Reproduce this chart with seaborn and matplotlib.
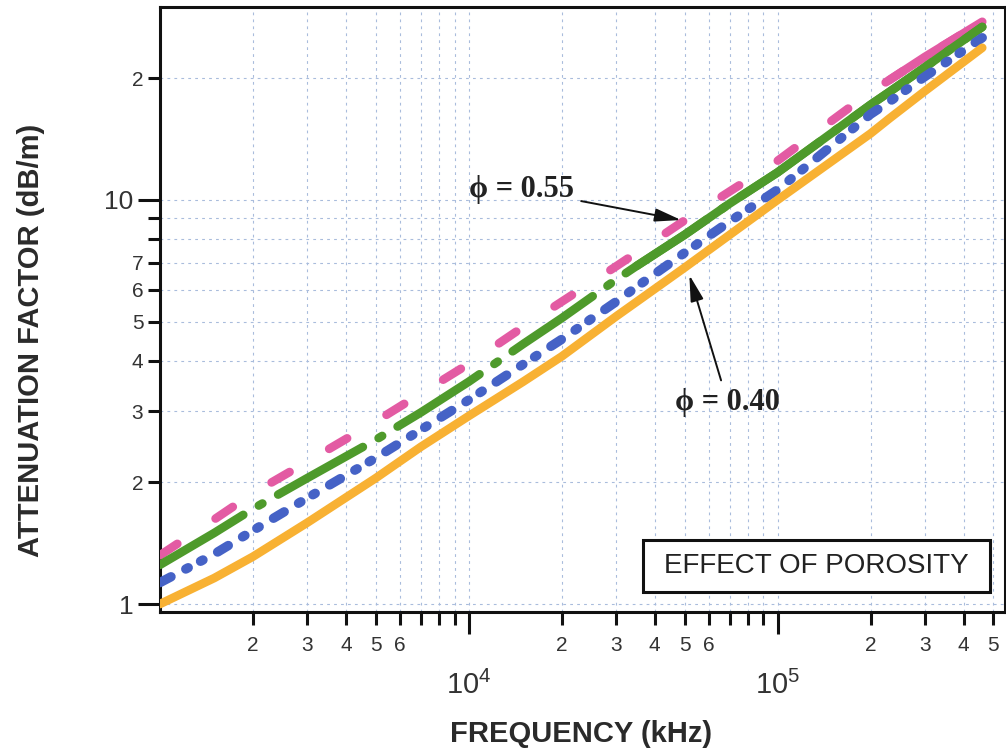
import numpy as np
import pandas as pd
import matplotlib
matplotlib.use("Agg")
import matplotlib.pyplot as plt
from matplotlib.ticker import FixedLocator, FixedFormatter
from matplotlib.patches import Rectangle
import seaborn as sns

# ---------------- data ----------------
freq_khz = [1000, 1500, 2000, 3000, 5000, 7000, 10000, 15000, 20000, 30000,
            35000, 50000, 70000, 100000, 200000, 230000, 300000, 460000]
atten_pink = [1.32, 1.62, 1.88, 2.25, 2.83, 3.32, 3.93, 4.85, 5.6, 6.85,
              7.41, 8.9, 10.5, 12.5, 18.5, 19.8, 22.6, 27.6]
atten_green = [1.25, 1.5, 1.72, 2.05, 2.55, 2.98, 3.55, 4.4, 5.1, 6.35,
               6.87, 8.2, 9.8, 11.7, 17.2, 18.5, 21.3, 26.8]
atten_blue = [1.13, 1.33, 1.52, 1.83, 2.3, 2.7, 3.2, 3.92, 4.52, 5.6,
              6.1, 7.4, 8.85, 10.6, 16.3, 17.5, 20.2, 25.2]
atten_orange = [1.00, 1.16, 1.31, 1.59, 2.05, 2.45, 2.92, 3.55, 4.1, 5.15,
                5.6, 6.8, 8.2, 10.0, 14.6, 15.9, 18.6, 23.8]
series_names = ["phi_0.55", "phi_b", "phi_c", "phi_0.40"]

x_major = [1e4, 1e5]
x_major_labels = [r"$\mathregular{10^4}$", r"$\mathregular{10^5}$"]
x_minor = [2e3, 3e3, 4e3, 5e3, 6e3, 7e3, 8e3, 9e3,
           2e4, 3e4, 4e4, 5e4, 6e4, 7e4, 8e4, 9e4,
           2e5, 3e5, 4e5, 5e5]
x_minor_labels = ["2", "3", "4", "5", "6", "", "", "",
                  "2", "3", "4", "5", "6", "", "", "",
                  "2", "3", "4", "5"]
y_major = [1, 10]
y_major_labels = ["1", "10"]
y_minor = [2, 3, 4, 5, 6, 7, 8, 9, 20]
y_minor_labels = ["2", "3", "4", "5", "6", "7", "", "", "2"]

# ---------------- style ----------------
sns.set_style("white")
plt.rcParams["font.family"] = ["Liberation Sans", "DejaVu Sans"]
plt.rcParams["lines.scale_dashes"] = False
plt.rcParams["mathtext.fontset"] = "custom"
plt.rcParams["mathtext.rm"] = "Liberation Sans"

df = pd.DataFrame({
    "freq": freq_khz * 4,
    "atten": atten_pink + atten_green + atten_blue + atten_orange,
    "series": np.repeat(series_names, len(freq_khz)),
})

styles = {
    "phi_0.55": dict(color="#E35BA3", ls=(0, (15, 33)), solid_from=230000, lw=6.2),
    "phi_b": dict(color="#4E9A2B", ls=(0, (70, 13, 3, 13)), solid_from=35000, lw=6.2),
    "phi_c": dict(color="#4562C6", ls=(0, (9, 12, 2, 10, 2, 12)), solid_from=None, lw=6.8),
    "phi_0.40": dict(color="#F8B133", ls="-", solid_from=None, lw=6.2),
}

fig = plt.figure(figsize=(10.06, 7.52), dpi=100)
ax = fig.add_axes([0.159, 0.186, 0.840, 0.8045])
ax.set_xscale("log")
ax.set_yscale("log")

for name in series_names:
    st = styles[name]
    sub = df[df["series"] == name]
    sns.lineplot(data=sub, x="freq", y="atten", ax=ax, color=st["color"],
                 linewidth=st["lw"], linestyle=st["ls"], dash_capstyle="round",
                 solid_capstyle="round", solid_joinstyle="round",
                 estimator=None, legend=False, zorder=3)
    if st["solid_from"] is not None:
        sns.lineplot(data=sub[sub["freq"] >= st["solid_from"]], x="freq", y="atten",
                     ax=ax, color=st["color"], linewidth=st["lw"], linestyle="-",
                     solid_capstyle="round", solid_joinstyle="round",
                     estimator=None, legend=False, zorder=3)

ax.set_xlim(1000, 5.45e5)
ax.set_ylim(0.955, 30)

ax.xaxis.set_major_locator(FixedLocator(x_major))
ax.xaxis.set_major_formatter(FixedFormatter(x_major_labels))
ax.xaxis.set_minor_locator(FixedLocator(x_minor))
ax.xaxis.set_minor_formatter(FixedFormatter(x_minor_labels))
ax.yaxis.set_major_locator(FixedLocator(y_major))
ax.yaxis.set_major_formatter(FixedFormatter(y_major_labels))
ax.yaxis.set_minor_locator(FixedLocator(y_minor))
ax.yaxis.set_minor_formatter(FixedFormatter(y_minor_labels))

tick_col = "#333333"
ax.tick_params(axis="both", which="both", direction="out", color="#111111",
               width=2.2, labelcolor=tick_col, bottom=True, left=True)
ax.tick_params(axis="x", which="major", length=16, pad=26, labelsize=21)
ax.tick_params(axis="x", which="minor", length=9, pad=8, labelsize=15)
ax.tick_params(axis="y", which="major", length=16, pad=3, labelsize=19)
ax.tick_params(axis="y", which="minor", length=9, pad=3, labelsize=15)

ax.grid(True, which="both", color="#A9BCDC", linestyle=(0, (2, 3)), linewidth=0.8, zorder=0)
ax.set_axisbelow(True)

for sp in ax.spines.values():
    sp.set_visible(True)
    sp.set_color("#111111")
    sp.set_linewidth(2.2)

ax.set_xlabel("FREQUENCY (kHz)", fontsize=21, fontweight="bold", color="#2a2a2a")
ax.set_ylabel("ATTENUATION FACTOR (dB/m)", fontsize=21, fontweight="bold", color="#2a2a2a")
ax.xaxis.set_label_coords(0.498, -0.178)
ax.yaxis.set_label_coords(-0.136, 0.45)

# box label
ax.add_patch(Rectangle((0.572, 0.033), 0.41, 0.086, transform=ax.transAxes,
                       facecolor="white", edgecolor="#111111", linewidth=2.2, zorder=5))
ax.text(0.777, 0.076, "EFFECT OF POROSITY", transform=ax.transAxes, ha="center",
        va="center", fontsize=20, color="#222222", zorder=6)

# annotations
serif = ["Liberation Serif", "DejaVu Serif"]
arrow = dict(arrowstyle="-|>,head_length=0.8,head_width=0.2", color="#111111",
             lw=1.4, mutation_scale=20, shrinkA=3, shrinkB=0)
ax.annotate("\u03d5 = 0.55", xy=(4.87e4, 8.92), xytext=(1.0e4, 10.6), ha="left",
            va="center", fontsize=22, fontweight="bold", family=serif,
            color="#222222", arrowprops=arrow, zorder=7)
ax.annotate("\u03d5 = 0.40", xy=(5.18e4, 6.52), xytext=(6.89e4, 3.16), ha="center",
            va="center", fontsize=22, fontweight="bold", family=serif,
            color="#222222", arrowprops=arrow, zorder=7)

fig.savefig("out.png", dpi=100, facecolor="white")
